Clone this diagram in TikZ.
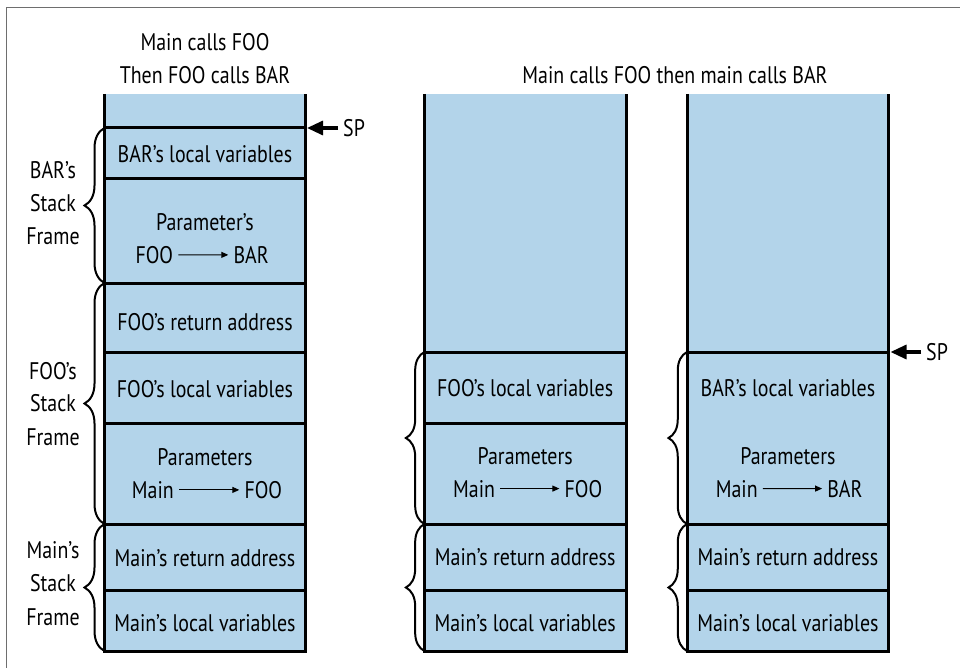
\documentclass[tikz,border=0pt]{standalone}
\usepackage{fontspec}
\setmainfont{PT Sans}[FakeStretch=0.83]
\usetikzlibrary{arrows.meta,decorations.pathreplacing,calc}
\definecolor{cellblue}{RGB}{179,212,234}
\definecolor{framegray}{RGB}{110,110,110}
\begin{document}
\begin{tikzpicture}[x=1pt,y=-1pt,
  txt/.style={font=\fontsize{24}{28}\selectfont, inner sep=0pt, anchor=base},
  word/.style={font=\fontsize{24}{28}\selectfont, inner xsep=5pt, inner ysep=0pt},
  wall/.style={line width=3pt, line join=miter},
  divider/.style={line width=3pt},
  stackbrace/.style={decorate, line width=2pt, decoration={brace, amplitude=#1}},
  sparrow/.style={line width=3.2pt, -{Triangle[length=16pt,width=14pt]}},
  parrow/.style={line width=1pt, -{Triangle[length=7pt,width=6pt]}}
]
\useasboundingbox (0,0) rectangle (960,668);
\draw[framegray, line width=1.5pt] (6.5,670) -- (6.5,7.5) -- (962,7.5);

% ---------- column 1 ----------
\fill[cellblue] (104.5,94) rectangle (305.5,651);
\draw[divider] (104.5,128) -- (305.5,128);
\draw[divider] (104.5,179) -- (305.5,179);
\draw[divider] (104.5,283) -- (305.5,283);
\draw[divider] (104.5,352) -- (305.5,352);
\draw[divider] (104.5,423) -- (305.5,423);
\draw[divider] (104.5,524) -- (305.5,524);
\draw[divider] (104.5,590.5) -- (305.5,590.5);
\draw[wall] (104.5,94) -- (104.5,651) -- (305.5,651) -- (305.5,94);

% ---------- column 2 ----------
\fill[cellblue] (424.4,94) rectangle (626,651);
\draw[divider] (424.4,352) -- (626,352);
\draw[divider] (424.4,423) -- (626,423);
\draw[divider] (424.4,524) -- (626,524);
\draw[divider] (424.4,590.5) -- (626,590.5);
\draw[wall] (424.4,94) -- (424.4,651) -- (626,651) -- (626,94);

% ---------- column 3 ----------
\fill[cellblue] (687,94) rectangle (888.7,651);
\draw[divider] (687,352) -- (888.7,352);
\draw[divider] (687,524) -- (888.7,524);
\draw[divider] (687,590.5) -- (888.7,590.5);
\draw[wall] (687,94) -- (687,651) -- (888.7,651) -- (888.7,94);

% ---------- titles ----------
\node[txt] (t1a) at (205,50.7) {Main calls FOO};
\node[txt] (t1b) at (205,83.3) {Then FOO calls BAR};
\node[txt] (t2) at (675,83.3) {Main calls FOO then main calls BAR};

% ---------- column 1 texts ----------
\node[txt] (c1bl) at (205,162.3) {BAR’s local variables};
\node[txt] (c1p) at (205,230) {Parameter’s};
\node[word, anchor=base east] (c1foo) at (178.3,263.3) {FOO};
\node[word, anchor=base west] (c1bar) at (228.3,263.3) {BAR};
\draw[parrow] (c1foo) -- (c1bar);
\node[txt] (c1fr) at (205,330.7) {FOO’s return address};
\node[txt] (c1fl) at (205,397.3) {FOO’s local variables};
\node[txt] (c1pp) at (205,465) {Parameters};
\node[word, anchor=base east] (c1main) at (179,498.3) {Main};
\node[word, anchor=base west] (c1fooB) at (239.3,498.3) {FOO};
\draw[parrow] (c1main) -- (c1fooB);
\node[txt] (c1mr) at (205,566) {Main’s return address};
\node[txt] (c1ml) at (205,631.7) {Main’s local variables};

% ---------- column 2 texts ----------
\node[txt] (c2fl) at (525.2,396.7) {FOO’s local variables};
\node[txt] (c2pp) at (525.2,464) {Parameters};
\node[word, anchor=base east] (c2main) at (500.2,497) {Main};
\node[word, anchor=base west] (c2foo) at (559.4,497) {FOO};
\draw[parrow] (c2main) -- (c2foo);
\node[txt] (c2mr) at (525.2,565) {Main’s return address};
\node[txt] (c2ml) at (525.2,631.7) {Main’s local variables};

% ---------- column 3 texts ----------
\node[txt] (c3bl) at (787.9,396.7) {BAR’s local variables};
\node[txt] (c3pp) at (787.9,464) {Parameters};
\node[word, anchor=base east] (c3main) at (762.9,497) {Main};
\node[word, anchor=base west] (c3bar) at (822.1,497) {BAR};
\draw[parrow] (c3main) -- (c3bar);
\node[txt] (c3mr) at (787.9,565) {Main’s return address};
\node[txt] (c3ml) at (787.9,631.7) {Main’s local variables};

% ---------- braces ----------
\draw[stackbrace=20pt] (104.5,283) -- (104.5,128);
\draw[stackbrace=20pt] (104.5,524) -- (104.5,283);
\draw[stackbrace=20pt] (104.5,651) -- (104.5,524);
\draw[stackbrace=18.5pt] (424.4,524) -- (424.4,352);
\draw[stackbrace=18.5pt] (424.4,651) -- (424.4,524);
\draw[stackbrace=18.5pt] (687,524) -- (687,352);
\draw[stackbrace=18.5pt] (687,651) -- (687,524);

% ---------- frame labels ----------
\node[txt] (lb1) at (53,178.3) {BAR’s};
\node[txt] (lb2) at (53,211.5) {Stack};
\node[txt] (lb3) at (53,244.5) {Frame};
\node[txt] (lf1) at (53,379) {FOO’s};
\node[txt] (lf2) at (53,411.7) {Stack};
\node[txt] (lf3) at (53,445) {Frame};
\node[txt] (lm1) at (53,558.3) {Main’s};
\node[txt] (lm2) at (53,591.7) {Stack};
\node[txt] (lm3) at (53,625) {Frame};

% ---------- stack pointers ----------
\coordinate (sp1) at (307,128);
\node[word, anchor=base west] (spl1) at (338,137) {SP};
\draw[sparrow] (spl1.west |- sp1) -- (sp1);
\coordinate (sp3) at (890.5,352);
\node[word, anchor=base west] (spl3) at (921,360.5) {SP};
\draw[sparrow] (spl3.west |- sp3) -- (sp3);
\end{tikzpicture}
\end{document}
